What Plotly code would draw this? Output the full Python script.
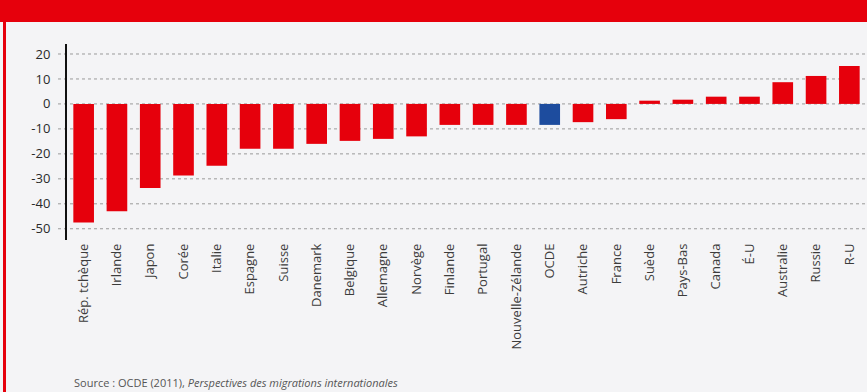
import plotly.graph_objects as go

countries = ["Rép. tchèque", "Irlande", "Japon", "Corée", "Italie", "Espagne", "Suisse",
             "Danemark", "Belgique", "Allemagne", "Norvège", "Finlande", "Portugal",
             "Nouvelle-Zélande", "OCDE", "Autriche", "France", "Suède", "Pays-Bas",
             "Canada", "É-U", "Australie", "Russie", "R-U"]
values = [-47.5, -43, -33.7, -28.7, -24.8, -18, -18, -16, -14.8, -14, -13, -8.4, -8.4,
          -8.4, -8.4, -7.3, -6.1, 1.3, 1.7, 2.9, 2.9, 8.7, 11.2, 15.2]
highlight = "OCDE"
y_ticks = [20, 10, 0, -10, -20, -30, -40, -50]

RED = "#e6000c"
BLUE = "#1d4c9e"
BG = "#f4f4f6"

colors = [BLUE if c == highlight else RED for c in countries]

W, H = 867, 392
L, R, T, B = 67, 1, 44, 152
pw, ph = W - L - R, H - T - B

fig = go.Figure(go.Bar(x=countries, y=values, marker=dict(color=colors, line=dict(width=0)),
                       width=0.62))

def px_x(p):
    return (p - L) / pw

def px_y(p):
    return 1 - (p - T) / ph

shapes = [
    dict(type="rect", xref="paper", yref="paper", x0=px_x(0), x1=px_x(W), y0=px_y(22), y1=px_y(0),
         fillcolor=RED, line=dict(width=0), layer="below"),
    dict(type="line", xref="paper", yref="paper", x0=px_x(4.5), x1=px_x(4.5), y0=px_y(H), y1=px_y(22),
         line=dict(color=RED, width=3)),
]
for t in y_ticks:
    shapes.append(dict(type="line", xref="paper", yref="y", x0=px_x(58), x1=1, y0=t, y1=t,
                       line=dict(color="#9a9a9a", width=1, dash="dot"), layer="below"))

fig.update_layout(
    width=W, height=H,
    margin=dict(l=L, r=R, t=T, b=B),
    paper_bgcolor=BG, plot_bgcolor=BG,
    font=dict(family="Open Sans", color="#444444"),
    showlegend=False,
    shapes=shapes,
    xaxis=dict(tickangle=-90, tickfont=dict(size=13, color="#3c3c3c"), showgrid=False,
               showline=False, ticks="", range=[-0.5, len(countries) - 0.5]),
    yaxis=dict(range=[-54.5, 24], tickvals=y_ticks, ticktext=[str(v) for v in y_ticks],
               showgrid=False, zeroline=False, showline=True, linecolor="#111111", linewidth=2,
               tickfont=dict(size=13, color="#2a2a2a"), ticks="", ticklabelstandoff=12),
    annotations=[dict(xref="paper", yref="paper", x=px_x(72), y=px_y(382), xanchor="left",
                      yanchor="middle", showarrow=False,
                      text="Source : OCDE (2011), <i>Perspectives des migrations internationales</i>",
                      font=dict(size=11, color="#555555"))],
)

fig.write_html("out.html", config={"displayModeBar": False},
               post_script="document.body.style.margin='0';document.body.style.overflow='hidden';")
